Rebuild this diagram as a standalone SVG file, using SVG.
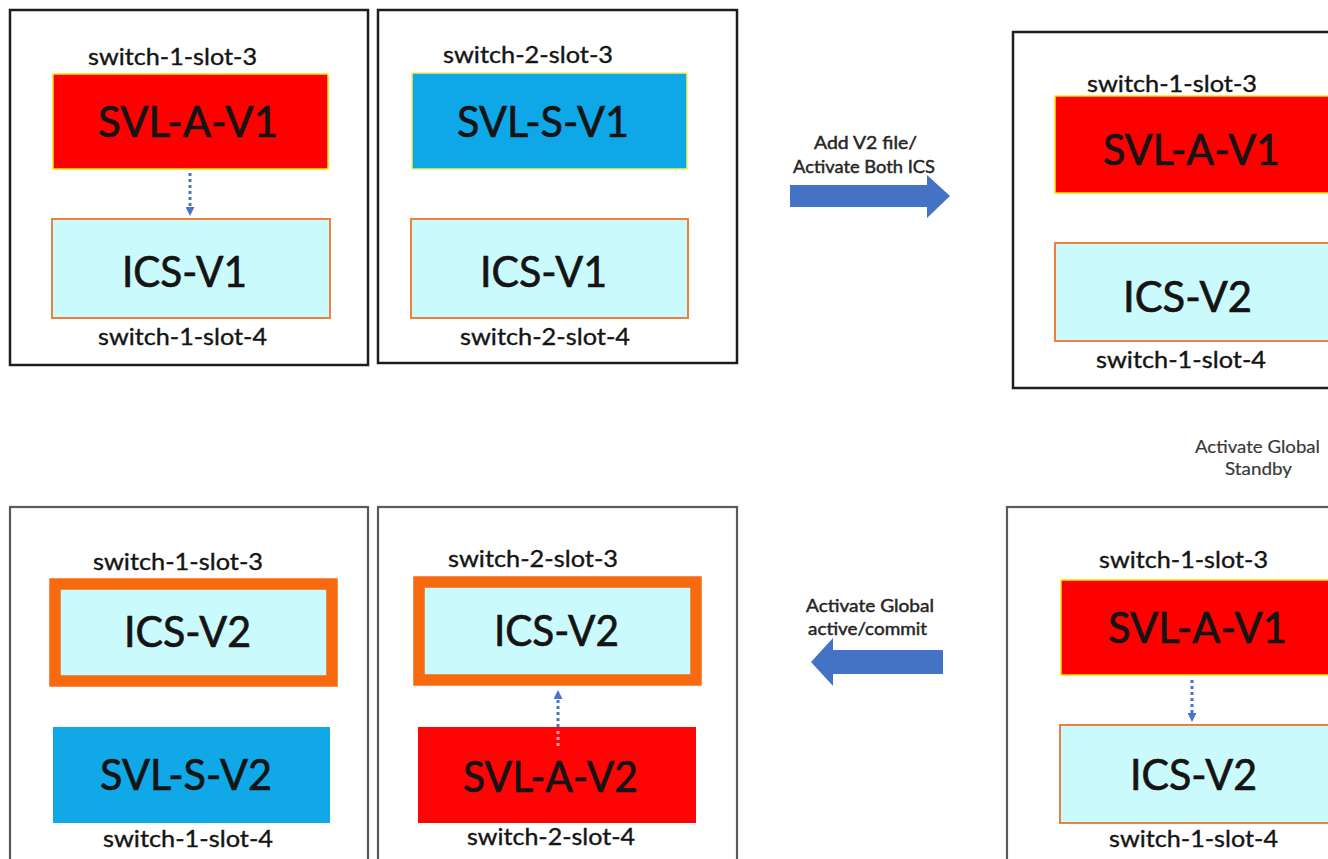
<svg xmlns="http://www.w3.org/2000/svg" width="1328" height="859" viewBox="0 0 1328 859">
<style>
  text { font-family: Lato, "Open Sans", "Liberation Sans", sans-serif; fill: #141414; }
  .lbl { font-size: 23px; stroke: #141414; stroke-width: 0.35; }
  .big { font-size: 42px; stroke: #141414; stroke-width: 0.7; }
  .step { font-size: 17px; fill: #262626; stroke: #262626; stroke-width: 0.45; }
  .note { font-size: 17px; fill: #3a3a3a; stroke: #3a3a3a; stroke-width: 0.2; }
  .panel { fill: #ffffff; stroke: #1e1e1e; stroke-width: 2.5; }
  .panel2 { fill: #ffffff; stroke: #5a5a5a; stroke-width: 2.2; }
  .red { fill: #ff0000; stroke: #ffe800; stroke-width: 1.5; }
  .blue { fill: #0ea8e8; stroke: #f2f25a; stroke-width: 1.5; }
  .blue2 { fill: #10a8e6; }
  .red2 { fill: #ff0404; }
  .ics { fill: #cbfafc; stroke: #e8823e; stroke-width: 2; }
  .icsb { fill: #cbfafc; stroke: #f76a10; stroke-width: 11.5; }
  .block { fill: #4472c4; }
  .dot { stroke: #4a74c6; stroke-width: 3; stroke-dasharray: 3 3; fill: none; }
  .dotp { stroke: #f4a6b4; stroke-width: 3; stroke-dasharray: 3 3; fill: none; }
</style>
<defs>
  <marker id="ah" markerWidth="9" markerHeight="9" refX="4" refY="4.5" orient="auto" markerUnits="userSpaceOnUse">
    <path d="M0,0 L9,4.5 L0,9 Z" fill="#4a74c6"/>
  </marker>
</defs>
<rect width="1328" height="859" fill="#ffffff"/>

<!-- Top row -->
<g id="panel-top-1">
  <rect class="panel" x="10" y="10" width="358" height="355"/>
  <text class="lbl" x="88" y="65" textLength="169" lengthAdjust="spacingAndGlyphs">switch-1-slot-3</text>
  <g id="t1-svl">
    <rect class="red" x="53" y="74" width="275" height="95"/>
    <text class="big" x="98" y="137" textLength="180" lengthAdjust="spacingAndGlyphs">SVL-A-V1</text>
  </g>
  <g id="t1-ics">
    <rect class="ics" x="52" y="219" width="278" height="99"/>
    <text class="big" x="122" y="287" textLength="125" lengthAdjust="spacingAndGlyphs">ICS-V1</text>
  </g>
  <text class="lbl" x="98" y="345" textLength="169" lengthAdjust="spacingAndGlyphs">switch-1-slot-4</text>
</g>

<g id="panel-top-2">
  <rect class="panel" x="378" y="10" width="359" height="353"/>
  <text class="lbl" x="443" y="63" textLength="170" lengthAdjust="spacingAndGlyphs">switch-2-slot-3</text>
  <g id="t2-svl">
    <rect class="blue" x="412" y="73" width="275" height="96"/>
    <text class="big" x="457" y="137" textLength="172" lengthAdjust="spacingAndGlyphs">SVL-S-V1</text>
  </g>
  <g id="t2-ics">
    <rect class="ics" x="411" y="219" width="277" height="99"/>
    <text class="big" x="480" y="287" textLength="127" lengthAdjust="spacingAndGlyphs">ICS-V1</text>
  </g>
  <text class="lbl" x="460" y="345" textLength="170" lengthAdjust="spacingAndGlyphs">switch-2-slot-4</text>
</g>

<g id="panel-top-3">
  <rect class="panel" x="1013" y="32" width="340" height="356"/>
  <text class="lbl" x="1087" y="92" textLength="170" lengthAdjust="spacingAndGlyphs">switch-1-slot-3</text>
  <g id="t3-svl">
    <rect class="red" x="1055" y="96" width="300" height="97"/>
    <text class="big" x="1103" y="165" textLength="177" lengthAdjust="spacingAndGlyphs">SVL-A-V1</text>
  </g>
  <g id="t3-ics">
    <rect class="ics" x="1055" y="243" width="300" height="98"/>
    <text class="big" x="1123" y="312" textLength="129" lengthAdjust="spacingAndGlyphs">ICS-V2</text>
  </g>
  <text class="lbl" x="1096" y="368" textLength="170" lengthAdjust="spacingAndGlyphs">switch-1-slot-4</text>
</g>

<!-- Bottom row -->
<g id="panel-bottom-1">
  <rect class="panel2" x="10" y="507" width="358" height="380"/>
  <text class="lbl" x="93" y="570" textLength="170" lengthAdjust="spacingAndGlyphs">switch-1-slot-3</text>
  <g id="b1-ics">
    <rect class="icsb" x="55" y="584" width="277" height="97"/>
    <text class="big" x="124" y="647" textLength="127" lengthAdjust="spacingAndGlyphs">ICS-V2</text>
  </g>
  <g id="b1-svl">
    <rect class="blue2" x="53" y="727" width="277" height="96"/>
    <text class="big" x="100" y="790" textLength="172" lengthAdjust="spacingAndGlyphs">SVL-S-V2</text>
  </g>
  <text class="lbl" x="103" y="847" textLength="170" lengthAdjust="spacingAndGlyphs">switch-1-slot-4</text>
</g>

<g id="panel-bottom-2">
  <rect class="panel2" x="378" y="507" width="359" height="380"/>
  <text class="lbl" x="448" y="567" textLength="170" lengthAdjust="spacingAndGlyphs">switch-2-slot-3</text>
  <g id="b2-ics">
    <rect class="icsb" x="419" y="582" width="277" height="98"/>
    <text class="big" x="494" y="646" textLength="125" lengthAdjust="spacingAndGlyphs">ICS-V2</text>
  </g>
  <g id="b2-svl">
    <rect class="red2" x="418" y="727" width="278" height="96"/>
    <text class="big" x="463" y="792" textLength="175" lengthAdjust="spacingAndGlyphs">SVL-A-V2</text>
  </g>
  <text class="lbl" x="467" y="845" textLength="168" lengthAdjust="spacingAndGlyphs">switch-2-slot-4</text>
</g>

<g id="panel-bottom-3">
  <rect class="panel2" x="1007" y="507" width="345" height="380"/>
  <text class="lbl" x="1099" y="568" textLength="169" lengthAdjust="spacingAndGlyphs">switch-1-slot-3</text>
  <g id="b3-svl">
    <rect class="red" x="1061" y="580" width="295" height="95"/>
    <text class="big" x="1108" y="643" textLength="179" lengthAdjust="spacingAndGlyphs">SVL-A-V1</text>
  </g>
  <g id="b3-ics">
    <rect class="ics" x="1060" y="725" width="295" height="98"/>
    <text class="big" x="1130" y="790" textLength="127" lengthAdjust="spacingAndGlyphs">ICS-V2</text>
  </g>
  <text class="lbl" x="1109" y="847" textLength="169" lengthAdjust="spacingAndGlyphs">switch-1-slot-4</text>
</g>

<!-- Connectors -->
<g id="connectors">
  <line class="dot" x1="190" y1="173" x2="190" y2="211" marker-end="url(#ah)"/>
  <line class="dot" x1="1192" y1="680" x2="1192" y2="717" marker-end="url(#ah)"/>
  <line class="dotp" x1="558" y1="746" x2="558" y2="728"/>
  <line class="dot" x1="558" y1="727" x2="558" y2="695" marker-end="url(#ah)"/>

  <g id="arrow-add-v2">
    <polygon class="block" points="790,185 927,185 927,175 950,196 927,218 927,207 790,207"/>
    <text class="step" x="814" y="149" textLength="103" lengthAdjust="spacingAndGlyphs">Add V2 file/</text>
    <text class="step" x="793" y="173" textLength="142" lengthAdjust="spacingAndGlyphs">Activate Both ICS</text>
  </g>
  <g id="arrow-global-standby">
    <text class="note" x="1195" y="453" textLength="125" lengthAdjust="spacingAndGlyphs">Activate Global</text>
    <text class="note" x="1225" y="475" textLength="67" lengthAdjust="spacingAndGlyphs">Standby</text>
  </g>
  <g id="arrow-global-active">
    <polygon class="block" points="943,650 833,650 833,638 811,662 833,686 833,674 943,674"/>
    <text class="step" x="806" y="612" textLength="128" lengthAdjust="spacingAndGlyphs">Activate Global</text>
    <text class="step" x="808" y="635" textLength="119" lengthAdjust="spacingAndGlyphs">active/commit</text>
  </g>
</g>
</svg>
